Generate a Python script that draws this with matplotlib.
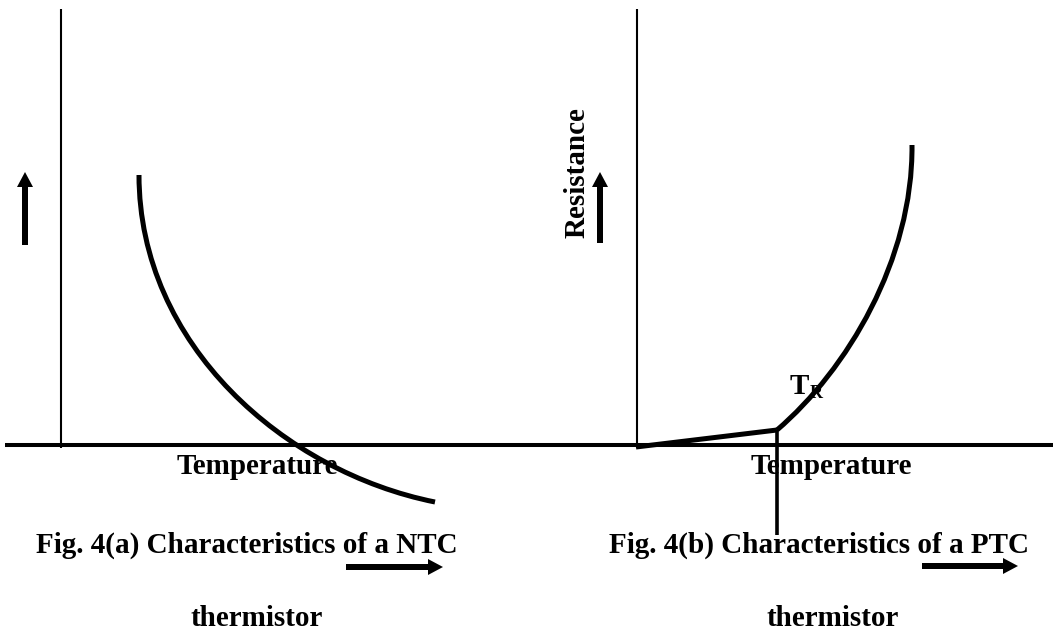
import numpy as np
import matplotlib.pyplot as plt
from matplotlib.path import Path
from matplotlib.patches import PathPatch

# Canvas is laid out in pixel units (y grows downward)
W, H = 1053, 630

# NTC curve (cubic Bezier: start, two control points, end)
ntc_x = [139, 139, 285, 435]
ntc_y = [175, 345, 472, 502]

# PTC curve: straight run up to T_R, then a steep cubic rise
ptc_flat_x = [636, 777]
ptc_flat_y = [447, 430]
ptc_rise_x = [777, 847, 913, 912]
ptc_rise_y = [430, 370, 260, 145]

# axes of both panels
axis_y = 445
left_axis_x = 61
right_axis_x = 637
axis_top = 9

# T_R drop line
tr_x = 777
tr_bottom = 535

x_label = "Temperature"
y_label = "Resistance"
captions = ["Fig. 4(a) Characteristics of a NTC", "Fig. 4(b) Characteristics of a PTC"]
caption_line2 = "thermistor"

fig = plt.figure(figsize=(W / 100, H / 100), dpi=100)
ax = fig.add_axes([0, 0, 1, 1])
ax.set_xlim(0, W)
ax.set_ylim(H, 0)
ax.axis("off")

font = dict(family="Liberation Serif", weight="bold", fontsize=21, color="black")


def bezier(xs, ys, **kw):
    verts = list(zip(xs, ys))
    codes = [Path.MOVETO] + [Path.CURVE4] * 3
    ax.add_patch(PathPatch(Path(verts, codes), fill=False, **kw))


curve_kw = dict(edgecolor="black", lw=3.6, capstyle="butt", joinstyle="round")

# horizontal axis shared by both panels
ax.plot([5, W], [axis_y, axis_y], color="black", lw=2.9, solid_capstyle="butt")
# vertical axes
for x in (left_axis_x, right_axis_x):
    ax.plot([x, x], [axis_top, axis_y + 3], color="black", lw=1.5, solid_capstyle="butt")

# characteristic curves
bezier(ntc_x, ntc_y, **curve_kw)
ax.plot(ptc_flat_x, ptc_flat_y, color="black", lw=3.6, solid_capstyle="butt")
bezier(ptc_rise_x, ptc_rise_y, **curve_kw)
ax.plot([tr_x, tr_x], [ptc_flat_y[1], tr_bottom], color="black", lw=2.6, solid_capstyle="butt")

# direction arrows
arrow_kw = dict(width=6, head_width=16, head_length=15, length_includes_head=True,
                color="black", lw=0)
ax.arrow(25, 245, 0, -73, **arrow_kw)
ax.arrow(600, 243, 0, -71, **arrow_kw)
ax.arrow(346, 567, 97, 0, **arrow_kw)
ax.arrow(922, 566, 96, 0, **arrow_kw)

# labels
ax.text(257, 474, x_label, ha="center", va="baseline", **font)
ax.text(831, 474, x_label, ha="center", va="baseline", **font)
ax.text(577, 173, y_label, ha="center", va="center", rotation=90, **font)

ax.text(790, 394, "T", ha="left", va="baseline", **font)
ax.text(810, 398, "R", ha="left", va="baseline", family="Liberation Serif",
        weight="bold", fontsize=13, color="black", zorder=0)

ax.text(247, 553, captions[0], ha="center", va="baseline", **font)
ax.text(819, 553, captions[1], ha="center", va="baseline", **font)
ax.text(257, 626, caption_line2, ha="center", va="baseline", **font)
ax.text(833, 626, caption_line2, ha="center", va="baseline", **font)

fig.savefig("out.png", dpi=100, facecolor="white")
